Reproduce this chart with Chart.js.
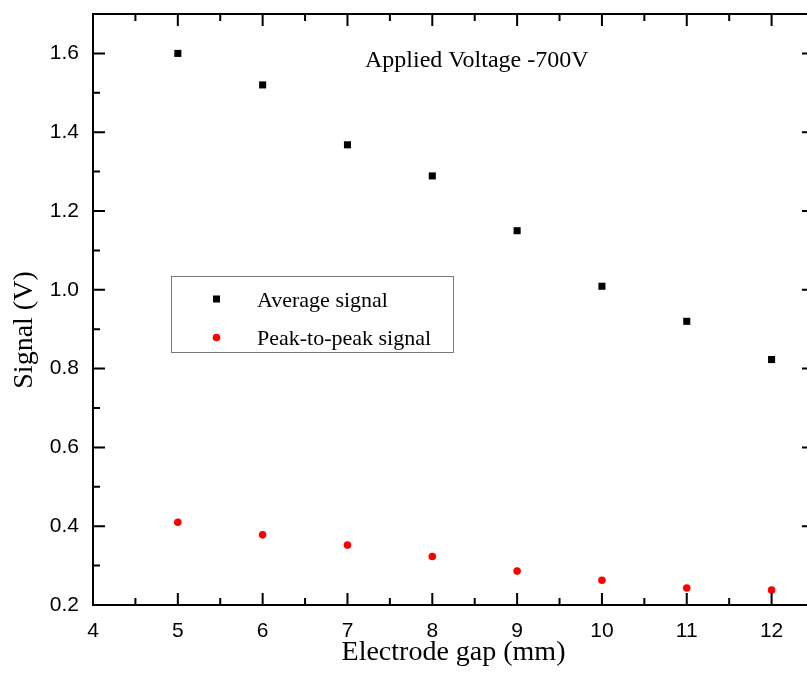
<!DOCTYPE html>
<html>
<head>
<meta charset="utf-8">
<script src="https://cdn.jsdelivr.net/npm/chart.js@4.4.1/dist/chart.umd.min.js"></script>
<style>
  html, body { margin: 0; padding: 0; background: #fff; }
  #wrap { width: 807px; height: 675px; overflow: hidden; position: relative; }
  #chart { display: block; }
</style>
</head>
<body>
<div id="wrap"><canvas id="chart" width="830" height="675"></canvas></div>
<script>
// electrode gap (mm)
const gaps = [5, 6, 7, 8, 9, 10, 11, 12];
// signal (V)
const averageSignal = [1.60, 1.52, 1.368, 1.289, 1.150, 1.009, 0.920, 0.823];
const peakToPeakSignal = [0.410, 0.378, 0.352, 0.323, 0.286, 0.263, 0.243, 0.238];

const xTicks = [4, 5, 6, 7, 8, 9, 10, 11, 12];
const yTicks = [0.2, 0.4, 0.6, 0.8, 1.0, 1.2, 1.4, 1.6];
const xMinorTicks = [4.5, 5.5, 6.5, 7.5, 8.5, 9.5, 10.5, 11.5, 12.5];
const yMinorTicks = [0.3, 0.5, 0.7, 0.9, 1.1, 1.3, 1.5];

const seriesNames = ['Average signal', 'Peak-to-peak signal'];
const noteText = 'Applied Voltage -700V';
const xTitle = 'Electrode gap (mm)';
const yTitle = 'Signal (V)';

const SERIF = '"Liberation Serif", "Times New Roman", serif';
const SANS = '"Liberation Sans", Arial, sans-serif';

function toPoints(xs, ys) {
  return xs.map((x, i) => ({ x: x, y: ys[i] }));
}

// frame with inward ticks on all four sides, titles, note and legend box
const originFrame = {
  id: 'originFrame',
  afterDraw(chart) {
    const ctx = chart.ctx;
    const a = chart.chartArea;
    const xs = chart.scales.x;
    const ys = chart.scales.y;
    const major = 12, minor = 7;

    ctx.save();
    ctx.strokeStyle = '#000';
    ctx.lineWidth = 2;
    ctx.strokeRect(a.left, a.top, a.right - a.left, a.bottom - a.top);

    ctx.beginPath();
    const vTick = (v, len) => {
      const px = xs.getPixelForValue(v);
      ctx.moveTo(px, a.bottom); ctx.lineTo(px, a.bottom - len);
      ctx.moveTo(px, a.top); ctx.lineTo(px, a.top + len);
    };
    const hTick = (v, len) => {
      const py = ys.getPixelForValue(v);
      ctx.moveTo(a.left, py); ctx.lineTo(a.left + len, py);
      ctx.moveTo(a.right, py); ctx.lineTo(a.right - len, py);
    };
    xTicks.forEach(v => vTick(v, major));
    xMinorTicks.forEach(v => vTick(v, minor));
    yTicks.forEach(v => hTick(v, major));
    yMinorTicks.forEach(v => hTick(v, minor));
    ctx.stroke();

    ctx.fillStyle = '#000';
    ctx.font = '28px ' + SERIF;
    ctx.textAlign = 'center';
    ctx.textBaseline = 'alphabetic';
    ctx.fillText(xTitle, (a.left + a.right) / 2, 660);

    ctx.save();
    ctx.translate(32, 330);
    ctx.rotate(-Math.PI / 2);
    ctx.fillText(yTitle, 0, 0);
    ctx.restore();

    ctx.font = '24px ' + SERIF;
    ctx.textAlign = 'left';
    ctx.fillText(noteText, 365, 67);

    // legend
    ctx.lineWidth = 1;
    ctx.strokeStyle = '#7a7a7a';
    ctx.strokeRect(171.5, 276.5, 282, 76);
    ctx.font = '22px ' + SERIF;
    const rows = [306.5, 345];
    chart.data.datasets.forEach((ds, i) => {
      const cy = rows[i] - 7.5;
      ctx.fillStyle = ds.pointBackgroundColor;
      if (ds.pointStyle === 'rect') {
        ctx.fillRect(213, cy - 3.5, 7, 7);
      } else {
        ctx.beginPath();
        ctx.arc(216.5, cy, 3.8, 0, Math.PI * 2);
        ctx.fill();
      }
      ctx.fillStyle = '#000';
      ctx.fillText(ds.label, 257, rows[i]);
    });
    ctx.restore();
  }
};

new Chart(document.getElementById('chart'), {
  type: 'scatter',
  data: {
    datasets: [
      {
        label: seriesNames[0],
        data: toPoints(gaps, averageSignal),
        pointStyle: 'rect',
        pointRadius: 5,
        pointBorderWidth: 0,
        pointBackgroundColor: '#000000',
        pointBorderColor: '#000000',
      },
      {
        label: seriesNames[1],
        data: toPoints(gaps, peakToPeakSignal),
        pointStyle: 'circle',
        pointRadius: 3.8,
        pointBorderWidth: 0,
        pointBackgroundColor: '#ff0000',
        pointBorderColor: '#ff0000',
      },
    ],
  },
  options: {
    responsive: false,
    animation: false,
    events: [],
    layout: { padding: { top: 14, right: 16, bottom: 0, left: 0 } },
    plugins: {
      legend: { display: false },
      tooltip: { enabled: false },
    },
    scales: {
      x: {
        type: 'linear',
        min: 4,
        max: 12.5,
        grid: { display: false, drawTicks: false },
        border: { display: false },
        afterFit(scale) {
          scale.height = 70;
          scale.paddingLeft = 0;
          scale.paddingRight = 0;
        },
        afterBuildTicks(scale) { scale.ticks = xTicks.map(v => ({ value: v })); },
        ticks: {
          padding: 14,
          color: '#000',
          font: { family: SANS, size: 21 },
          callback: v => String(v),
        },
      },
      y: {
        type: 'linear',
        min: 0.2,
        max: 1.7,
        grid: { display: false, drawTicks: false },
        border: { display: false },
        afterFit(scale) {
          scale.width = 93;
          scale.paddingTop = 0;
          scale.paddingBottom = 0;
        },
        afterBuildTicks(scale) { scale.ticks = yTicks.map(v => ({ value: v })); },
        ticks: {
          padding: 14,
          color: '#000',
          font: { family: SANS, size: 21 },
          callback: v => Number(v).toFixed(1),
        },
      },
    },
  },
  plugins: [originFrame],
});
</script>
</body>
</html>
